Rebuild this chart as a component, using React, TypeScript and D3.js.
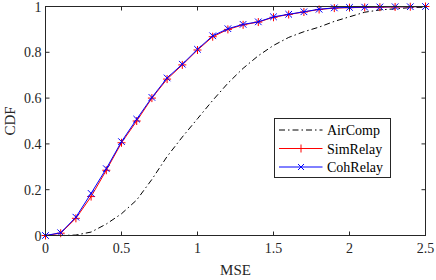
import React, { useEffect, useRef } from 'react'
import * as d3 from 'd3'

const mse = [0, 0.1, 0.2, 0.3, 0.4, 0.5, 0.6, 0.7, 0.8, 0.9, 1.0, 1.1, 1.2, 1.3, 1.4, 1.5, 1.6, 1.7, 1.8, 1.9, 2.0, 2.1, 2.2, 2.3, 2.4, 2.5]
const airComp = [0, 0, 0.002, 0.015, 0.05, 0.095, 0.155, 0.245, 0.345, 0.43, 0.51, 0.59, 0.665, 0.73, 0.785, 0.83, 0.865, 0.89, 0.91, 0.935, 0.955, 0.975, 0.985, 0.99, 0.995, 0.997]
const simRelay = [0, 0.01, 0.075, 0.17, 0.285, 0.405, 0.5, 0.6, 0.683, 0.745, 0.81, 0.868, 0.9, 0.92, 0.932, 0.953, 0.965, 0.976, 0.987, 0.993, 0.995, 0.996, 0.997, 0.998, 0.999, 1.0]
const cohRelay = [0, 0.012, 0.08, 0.184, 0.292, 0.41, 0.508, 0.603, 0.688, 0.748, 0.813, 0.872, 0.903, 0.922, 0.933, 0.955, 0.966, 0.977, 0.988, 0.994, 0.996, 0.997, 0.998, 0.999, 0.999, 1.0]
const xTicks = [0, 0.5, 1, 1.5, 2, 2.5]
const yTicks = [0, 0.2, 0.4, 0.6, 0.8, 1]
const seriesNames = ['AirComp', 'SimRelay', 'CohRelay']

const App = () => {
  const svgRef = useRef<SVGSVGElement>(null)

  useEffect(() => {
    const w = 436
    const h = 280
    const m = { left: 45.5, right: 10.5, top: 6.5, bottom: 44.5 }
    const svg = d3.select(svgRef.current)
    svg.selectAll('*').remove()
    svg.attr('width', w).attr('height', h)

    const font = '"Liberation Serif", "Times New Roman", serif'
    const axisColor = '#262626'

    const x = d3.scaleLinear().domain([0, 2.5]).range([m.left, w - m.right])
    const y = d3.scaleLinear().domain([0, 1]).range([h - m.bottom, m.top])

    svg.append('rect')
      .attr('x', 0).attr('y', 0).attr('width', w).attr('height', h)
      .attr('fill', 'white')

    const line = (vals: number[]) =>
      d3.line<number>().x((d, i) => x(mse[i])).y(d => y(d))(vals)

    // curves
    svg.append('path')
      .attr('d', line(airComp))
      .attr('fill', 'none').attr('stroke', 'black').attr('stroke-width', 1)
      .attr('stroke-dasharray', '6,3,1.5,3')

    svg.append('path')
      .attr('d', line(simRelay))
      .attr('fill', 'none').attr('stroke', '#ff0000').attr('stroke-width', 1)

    const plus = (g: any, cx: number, cy: number, s: number, color: string) => {
      g.append('path')
        .attr('d', `M${cx - s},${cy}H${cx + s}M${cx},${cy - s}V${cy + s}`)
        .attr('stroke', color).attr('stroke-width', 1).attr('fill', 'none')
    }
    const cross = (g: any, cx: number, cy: number, s: number, color: string) => {
      g.append('path')
        .attr('d', `M${cx - s},${cy - s}L${cx + s},${cy + s}M${cx - s},${cy + s}L${cx + s},${cy - s}`)
        .attr('stroke', color).attr('stroke-width', 1).attr('fill', 'none')
    }

    const simG = svg.append('g')
    simRelay.forEach((v, i) => plus(simG, x(mse[i]), y(v), 4, '#ff0000'))

    svg.append('path')
      .attr('d', line(cohRelay))
      .attr('fill', 'none').attr('stroke', '#0000ff').attr('stroke-width', 1)
    const cohG = svg.append('g')
    cohRelay.forEach((v, i) => cross(cohG, x(mse[i]), y(v), 3.3, '#0000ff'))

    // axes box
    const x0 = x(0), x1 = x(2.5), y0 = y(0), y1 = y(1)
    svg.append('rect')
      .attr('x', x0).attr('y', y1).attr('width', x1 - x0).attr('height', y0 - y1)
      .attr('fill', 'none').attr('stroke', axisColor).attr('stroke-width', 1)

    const tl = 4
    xTicks.forEach(t => {
      svg.append('line').attr('x1', x(t)).attr('x2', x(t)).attr('y1', y0).attr('y2', y0 - tl).attr('stroke', axisColor)
      svg.append('line').attr('x1', x(t)).attr('x2', x(t)).attr('y1', y1).attr('y2', y1 + tl).attr('stroke', axisColor)
      svg.append('text')
        .attr('x', x(t)).attr('y', y0 + 17)
        .attr('text-anchor', 'middle')
        .attr('font-family', font).attr('font-size', 14).attr('fill', axisColor)
        .text(String(t))
    })
    yTicks.forEach(t => {
      svg.append('line').attr('x1', x0).attr('x2', x0 + tl).attr('y1', y(t)).attr('y2', y(t)).attr('stroke', axisColor)
      svg.append('line').attr('x1', x1).attr('x2', x1 - tl).attr('y1', y(t)).attr('y2', y(t)).attr('stroke', axisColor)
      svg.append('text')
        .attr('x', x0 - 4).attr('y', y(t) + 5)
        .attr('text-anchor', 'end')
        .attr('font-family', font).attr('font-size', 14).attr('fill', axisColor)
        .text(String(t))
    })

    svg.append('text')
      .attr('x', (x0 + x1) / 2).attr('y', h - 5)
      .attr('text-anchor', 'middle')
      .attr('font-family', font).attr('font-size', 15).attr('fill', axisColor)
      .text('MSE')
    svg.append('text')
      .attr('transform', `translate(15,${(y0 + y1) / 2}) rotate(-90)`)
      .attr('text-anchor', 'middle')
      .attr('font-family', font).attr('font-size', 15).attr('fill', axisColor)
      .text('CDF')

    // legend
    const lg = svg.append('g').attr('transform', 'translate(274.5,118.5)')
    lg.append('rect').attr('width', 116).attr('height', 59)
      .attr('fill', 'white').attr('stroke', axisColor).attr('stroke-width', 1)
    const colors = ['black', '#ff0000', '#0000ff']
    seriesNames.forEach((name, i) => {
      const ry = 11.5 + i * 18.5
      const l = lg.append('line').attr('x1', 4.5).attr('x2', 48).attr('y1', ry).attr('y2', ry)
        .attr('stroke', colors[i]).attr('stroke-width', 1)
      if (i === 0) l.attr('stroke-dasharray', '6,3,1.5,3')
      if (i === 1) plus(lg, 26.5, ry, 4, colors[i])
      if (i === 2) cross(lg, 26.5, ry, 3, colors[i])
      lg.append('text').attr('x', 52.5).attr('y', ry + 5)
        .attr('font-family', font).attr('font-size', 14).attr('fill', 'black')
        .text(name)
    })
  }, [])

  return (
    <div style={{ position: 'absolute', left: 0, top: 0 }}>
      <svg ref={svgRef} style={{ display: 'block' }}></svg>
    </div>
  )
}

export default App
